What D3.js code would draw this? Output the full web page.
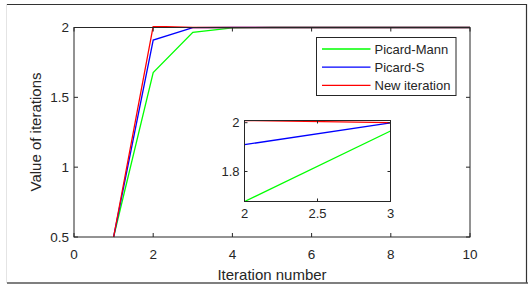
<!DOCTYPE html>
<html>
<head>
<meta charset="utf-8">
<script src="https://cdn.jsdelivr.net/npm/d3@7"></script>
<style>
  body { margin: 0; background: #fff; }
  text { font-family: "Liberation Sans", Arial, sans-serif; fill: #262626; }
</style>
</head>
<body>
<svg id="chart" width="531" height="288"></svg>
<script>
// iteration values
var iterations = [1, 2, 3, 4, 5, 6, 7, 8, 9, 10];
var picardMann = [0.5, 1.677, 1.966, 1.998, 2.0, 2.0, 2.0, 2.0, 2.0, 2.0];
var picardS    = [0.5, 1.910, 1.999, 2.0, 2.0, 2.0, 2.0, 2.0, 2.0, 2.0];
var newIter    = [0.5, 2.009, 2.0, 2.0, 2.0, 2.0, 2.0, 2.0, 2.0, 2.0];

var seriesNames = ["Picard-Mann", "Picard-S", "New iteration"];
var seriesColors = ["#00ff00", "#0000ff", "#ff0000"];

var xTicks = [0, 2, 4, 6, 8, 10];
var yTicks = [0.5, 1, 1.5, 2];
var insetXTicks = [2, 2.5, 3];
var insetYTicks = [1.8, 2];

var svg = d3.select("#chart");
var axisCol = "#262626";

// outer frame of the figure
svg.append("line").attr("x1", 6.5).attr("x2", 6.5).attr("y1", 4).attr("y2", 283)
  .attr("stroke", "#e4e4e4");
svg.append("path").attr("d", "M7,4.5H526.5V283")
  .attr("fill", "none").attr("stroke", "#333").attr("stroke-width", 1.2);
svg.append("line").attr("x1", 7).attr("x2", 528).attr("y1", 283).attr("y2", 283)
  .attr("stroke", "#555").attr("stroke-width", 1.5);

var allSeries = [picardMann, picardS, newIter].map(function(vals, i) {
  return {
    name: seriesNames[i],
    color: seriesColors[i],
    values: vals.map(function(v, j) { return {x: iterations[j], y: v}; })
  };
});

function drawAxes(g, x, y, xt, yt, fs, tick, xoff) {
  var x0 = x.range()[0], x1 = x.range()[1];
  var y0 = y.range()[0], y1 = y.range()[1];
  var ax = g.append("g");
  ax.append("rect").attr("x", x0).attr("y", y1).attr("width", x1 - x0).attr("height", y0 - y1)
    .attr("fill", "none").attr("stroke", axisCol).attr("stroke-width", 1);
  xt.forEach(function(t) {
    ax.append("line").attr("x1", x(t)).attr("x2", x(t)).attr("y1", y0).attr("y2", y0 - tick).attr("stroke", axisCol);
    ax.append("line").attr("x1", x(t)).attr("x2", x(t)).attr("y1", y1).attr("y2", y1 + tick).attr("stroke", axisCol);
    ax.append("text").attr("x", x(t)).attr("y", y0 + xoff).attr("dy", "0.35em").attr("text-anchor", "middle")
      .style("font-size", fs + "px").text(t);
  });
  yt.forEach(function(t) {
    ax.append("line").attr("x1", x0).attr("x2", x0 + tick).attr("y1", y(t)).attr("y2", y(t)).attr("stroke", axisCol);
    ax.append("line").attr("x1", x1).attr("x2", x1 - tick).attr("y1", y(t)).attr("y2", y(t)).attr("stroke", axisCol);
    ax.append("text").attr("x", x0 - 5).attr("y", y(t)).attr("dy", "0.35em").attr("text-anchor", "end")
      .style("font-size", fs + "px").text(t);
  });
}

// main axes
var x = d3.scaleLinear().domain([0, 10]).range([74, 470]);
var y = d3.scaleLinear().domain([0.5, 2]).range([237, 27.5]);

var main = svg.append("g");
var clipMain = svg.append("clipPath").attr("id", "clipMain");
clipMain.append("rect").attr("x", 74).attr("y", 26).attr("width", 396).attr("height", 212);

var line = d3.line().x(function(d) { return x(d.x); }).y(function(d) { return y(d.y); });

main.append("g").attr("clip-path", "url(#clipMain)")
  .selectAll("path").data(allSeries).join("path")
  .attr("d", function(d) { return line(d.values); })
  .attr("fill", "none").attr("stroke", function(d) { return d.color; }).attr("stroke-width", 1.3);

drawAxes(main, x, y, xTicks, yTicks, 13.5, 4, 17);

main.append("text").attr("x", (74 + 470) / 2).attr("y", 280).attr("text-anchor", "middle")
  .style("font-size", "15px").text("Iteration number");
main.append("text").attr("transform", "translate(41,132) rotate(-90)").attr("text-anchor", "middle")
  .style("font-size", "15px").text("Value of iterations");

// legend
var leg = svg.append("g");
leg.append("rect").attr("x", 316.5).attr("y", 37.5).attr("width", 139.5).attr("height", 58)
  .attr("fill", "#fff").attr("stroke", axisCol).attr("stroke-width", 1);
allSeries.forEach(function(s, i) {
  var ly = 49 + i * 18.2;
  leg.append("line").attr("x1", 322).attr("x2", 370.5).attr("y1", ly).attr("y2", ly)
    .attr("stroke", s.color).attr("stroke-width", 1.3);
  leg.append("text").attr("x", 374.5).attr("y", ly).attr("dy", "0.35em")
    .style("font-size", "13px").text(s.name);
});

// inset zoom
var xi = d3.scaleLinear().domain([2, 3]).range([244.5, 390.5]);
var yi = d3.scaleLinear().domain([1.677, 2.009]).range([201.5, 120.5]);
var inset = svg.append("g");
inset.append("rect").attr("x", 244.5).attr("y", 120.5).attr("width", 146).attr("height", 81).attr("fill", "#fff");
svg.append("clipPath").attr("id", "clipInset")
  .append("rect").attr("x", 244.5).attr("y", 120).attr("width", 146).attr("height", 82);
var lineI = d3.line().x(function(d) { return xi(d.x); }).y(function(d) { return yi(d.y); });
inset.append("g").attr("clip-path", "url(#clipInset)")
  .selectAll("path").data(allSeries).join("path")
  .attr("d", function(d) { return lineI(d.values.filter(function(p) { return p.x >= 2 && p.x <= 3; })); })
  .attr("fill", "none").attr("stroke", function(d) { return d.color; }).attr("stroke-width", 1.3);
drawAxes(inset, xi, yi, insetXTicks, insetYTicks, 13, 3, 12);
</script>
</body>
</html>
